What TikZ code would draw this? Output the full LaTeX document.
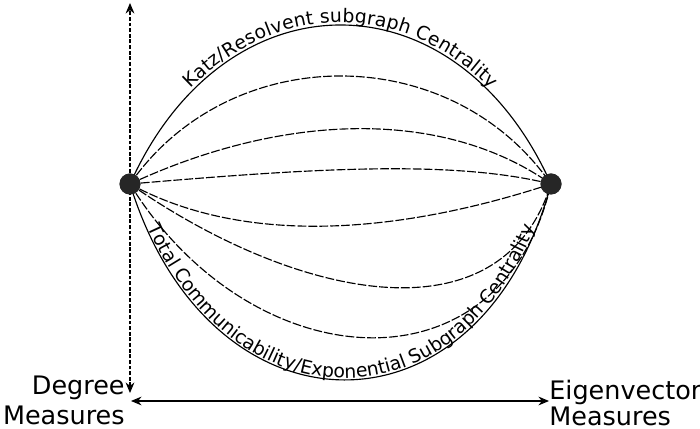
\documentclass[tikz,border=0pt]{standalone}
\usepackage{fontspec}
\setmainfont{DejaVu Sans}
\usetikzlibrary{arrows.meta,decorations.text}
\newcommand{\arclabel}{\fontsize{10.7}{13}\selectfont}

\begin{document}
\begin{tikzpicture}[>={Stealth[length=6pt,width=5pt]},
  hub/.style={circle,fill=black!85,minimum size=4.2mm,inner sep=0pt},
  link/.style={line width=0.65pt,dash pattern=on 5pt off 1.2pt},
  rim/.style={line width=0.65pt},
  axis/.style={line width=0.6pt,<->},
  measure/.style={inner sep=0pt}]
\useasboundingbox (0,0) rectangle (14,8.58);
% end points of the spectrum
\node[hub] (deg) at (2.6,4.9) {};
\node[hub] (eig) at (11.02,4.9) {};
\coordinate (up) at (2.6,8.52);
\coordinate (low) at (2.6,0.72);
\coordinate (hl) at (2.62,0.56);
\coordinate (hr) at (10.98,0.56);
% axes
\draw[axis,dash pattern=on 2.2pt off 1pt] (low) -- (up);
\draw[axis] (hl) -- (hr);
% outer arcs with labels
\draw[rim,postaction={decorate,decoration={text along path,text align=center,raise=1.5pt,
  text={|\arclabel|Katz/Resolvent subgraph Centrality}}}]
  (deg.center) .. controls +(1.9,4.24) and +(-1.9,4.24) .. (eig.center);
\draw[rim,postaction={decorate,decoration={text along path,text align=center,raise=1pt,
  text={|\arclabel|Total Communicability/Exponential Subgraph Centrality}}}]
  (deg.center) .. controls +(1.6,-5.2) and +(-1.4,-5.25) .. (eig.center);
% family of intermediate measures
\draw[link] (deg.center) .. controls +(2,2.88) and +(-2,2.88) .. (eig.center);
\draw[link] (deg.center) .. controls +(3,1.4) and +(-2.2,1.55) .. (eig.center);
\draw[link] (deg.center) .. controls +(3.5,0.3) and +(-2,0.5) .. (eig.center);
\draw[link] (deg.center) .. controls +(2.2,-1.2) and +(-3.2,-1.05) .. (eig.center);
\draw[link] (deg.center) .. controls +(3.3,-2.3) and +(-1,-3.2) .. (eig.center);
\draw[link] (deg.center) .. controls +(2.4,-3.9) and +(-1,-4.3) .. (eig.center);
\node[hub] at (deg) {};
\node[hub] at (eig) {};
% axis labels
\node[measure,align=right,anchor=north east,font=\fontsize{14.5}{17}\selectfont]
  (degtxt) at (2.5,1.07) {Degree\\Measures};
\node[measure,align=left,anchor=north west,font=\fontsize{14.5}{15}\selectfont]
  (eigtxt) at (10.98,0.99) {Eigenvector\\Measures};
\end{tikzpicture}
\end{document}
